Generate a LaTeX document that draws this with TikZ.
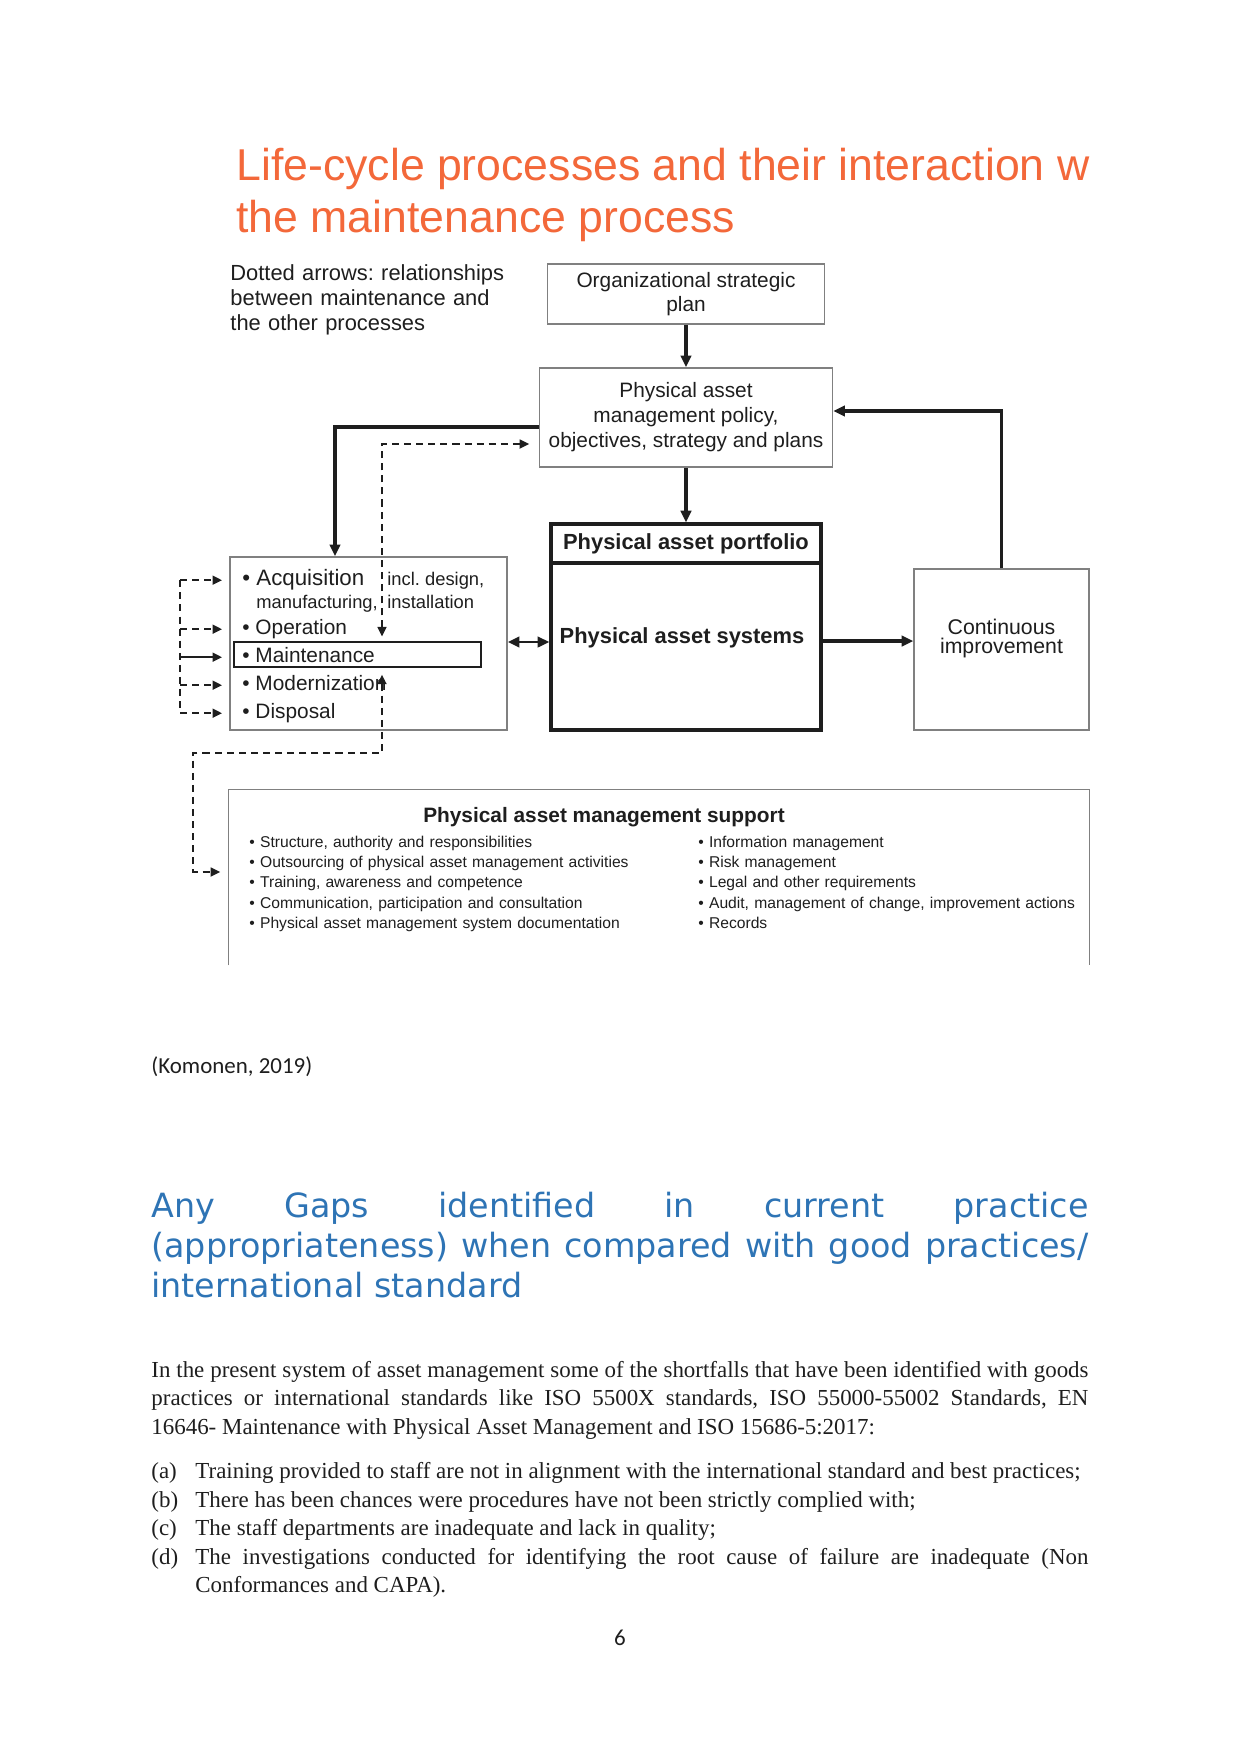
\documentclass[tikz,border=0pt]{standalone}
\usepackage{fontspec}
\usepackage{tikz}
\setmainfont{Liberation Serif}
\newfontfamily\arialfont{Liberation Sans}
\newfontfamily\gapsfont{DejaVu Sans}
\newfontfamily\calfont{Carlito}
\usetikzlibrary{arrows.meta, calc, positioning}
\frenchspacing

\definecolor{titleorange}{RGB}{243,104,58}
\definecolor{headblue}{RGB}{46,116,181}
\definecolor{framegray}{RGB}{128,128,128}
\definecolor{inkblack}{RGB}{30,30,30}

\tikzset{
  bigtip/.tip={Triangle[length=5.6pt,width=5pt]},
  smalltip/.tip={Triangle[length=4.6pt,width=4.2pt]},
  lbl/.style={inner sep=0pt, anchor=base west, text=inkblack},
  itemtxt/.style={lbl, font=\arialfont\fontsize{10}{12}\selectfont},
  smalltxt/.style={lbl, font=\arialfont\fontsize{8.8}{10.5}\selectfont},
  supporttxt/.style={lbl, text width=200pt, align=left, font=\arialfont\fontsize{7.5}{9.8}\selectfont},
  bodytxt/.style={lbl, font=\fontsize{11}{13.8}\selectfont},
  greybox/.style={draw=framegray, line width=0.7pt, inner sep=0pt, text=inkblack,
    font=\arialfont\fontsize{10}{12}\selectfont, align=center},
  heavybox/.style={draw=inkblack, line width=1.6pt, inner sep=0pt, text=inkblack,
    font=\arialfont\bfseries\fontsize{10.5}{12.6}\selectfont},
  flow/.style={draw=inkblack, line width=1.6pt, -bigtip},
  rel/.style={draw=inkblack, line width=1.1pt, dash pattern=on 3.4pt off 2.4pt, -smalltip},
}

\begin{document}
\begin{tikzpicture}[x=0.47968pt, y=-0.47968pt]
\useasboundingbox (0,0) rectangle (1241,1754);

% heading of the figure
\node[lbl, text=titleorange, font=\arialfont\fontsize{21.4}{25}\selectfont] (title1) at (236,180) {Life-cycle processes and their interaction w};
\node[lbl, text=titleorange, font=\arialfont\fontsize{21.4}{25}\selectfont] (title2) at (236,232) {the maintenance process};

\node[lbl, text width=150pt, align=left, font=\arialfont\fontsize{10.5}{12.2}\selectfont] (legend) at (230,280) {Dotted arrows: relationships\\between maintenance and\\the other processes};

% boxes
\node[greybox, minimum width=132.9pt, minimum height=28.8pt, font=\arialfont\fontsize{10}{11.5}\selectfont] (org) at (686,294) {Organizational strategic\\plan};
\node[greybox, minimum width=140.6pt, minimum height=47.5pt] (policy) at (686,417.5) {Physical asset\\management policy,\\objectives, strategy and plans};
\node[heavybox, minimum width=129.5pt, minimum height=18.7pt] (portfolio) at (686,543.5) {Physical asset portfolio};
\node[heavybox, minimum width=129.5pt, minimum height=80.1pt] (systems) at (686,646.5) {};
\node[lbl, anchor=base, font=\arialfont\bfseries\fontsize{10.5}{12.6}\selectfont] (systext) at (682,643) {Physical asset systems};
\node[greybox, minimum width=83.9pt, minimum height=77.2pt] (cont) at (1001.5,649.5) {};
\node[lbl, anchor=base, text width=80pt, align=center, font=\arialfont\fontsize{10.2}{9.3}\selectfont] (conttext) at (1001.5,634) {Continuous\\improvement};

% life-cycle processes
\node[greybox, minimum width=132.9pt, minimum height=83pt] (life) at (368.5,643.5) {};
\node[draw=inkblack, line width=1.3pt, minimum width=118.5pt, minimum height=12pt, inner sep=0pt] (maintbox) at (357.5,654.5) {};
\node[itemtxt, font=\arialfont\fontsize{10.7}{12}\selectfont] (acq) at (242,585) {\textbullet\ Acquisition};
\node[smalltxt] (incl) at (387,585) {incl. design,};
\node[smalltxt] (mfg) at (256,608) {manufacturing,};
\node[smalltxt] (inst) at (387,608) {installation};
\node[itemtxt] (oper) at (242,634) {\textbullet\ Operation};
\node[itemtxt] (maint) at (242,662) {\textbullet\ Maintenance};
\node[itemtxt] (modern) at (242,690) {\textbullet\ Modernization};
\node[itemtxt] (disp) at (242,718) {\textbullet\ Disposal};

% support box, open at the bottom
\node[minimum width=412.5pt, minimum height=83.9pt, inner sep=0pt] (support) at (659,877.5) {};
\draw[framegray, line width=0.7pt] (support.south west) |- (support.north east) -- (support.south east);
\node[lbl, anchor=base, font=\arialfont\bfseries\fontsize{10}{12}\selectfont] (suptitle) at (604,822) {Physical asset management support};
\node[supporttxt] (supleft) at (249,847) {\textbullet\ Structure, authority and responsibilities\\
  \textbullet\ Outsourcing of physical asset management activities\\
  \textbullet\ Training, awareness and competence\\
  \textbullet\ Communication, participation and consultation\\
  \textbullet\ Physical asset management system documentation};
\node[supporttxt] (supright) at (698,847) {\textbullet\ Information management\\
  \textbullet\ Risk management\\
  \textbullet\ Legal and other requirements\\
  \textbullet\ Audit, management of change, improvement actions\\
  \textbullet\ Records};

% solid connectors
\draw[flow] (org.south) -- (policy.north);
\draw[flow] (policy.south) -- (portfolio.north);
\draw[flow] ($(policy.west)+(0,9.5)$) -| ($(life.north)+(-33.5,0)$);
\draw[flow] (cont.north) |- ($(policy.east)+(0,-6.5)$);
\draw[flow] ($(systems.east)+(0,-5.5)$) coordinate (s) -- (s -| cont.west);
\draw[flow, line width=1.3pt, bigtip-bigtip] ($(life.east)+(0,-1.5)$) coordinate (l) -- (l -| systems.west);

% dotted relationships
\coordinate (dx) at (382,444);
\coordinate (lx) at (180,0);
\coordinate (bend) at (193,753);
\draw[rel, smalltip-smalltip, shorten <=2pt, shorten >=4.5pt] (maintbox.north -| dx) |- ($(policy.west)+(0,26.5)$);
\draw[rel, smalltip-smalltip, shorten <=3pt, shorten >=4pt] (maintbox.south -| dx) |- (bend) |- ($(support.west)+(0,-5.5)$);
\draw[rel, -] (lx |- acq.mid) -- (lx |- disp.mid);
\foreach \itm in {acq, oper, modern, disp}
  \draw[rel, shorten >=3.4pt] (lx |- \itm.mid) -- (life.west |- \itm.mid);
\draw[draw=inkblack, line width=1.1pt, -smalltip, shorten >=3.4pt] (lx |- maint.mid) -- (life.west |- maint.mid);

% text of the page
\node[lbl, font=\calfont\fontsize{11}{13}\selectfont] (cite) at (151,1073) {(Komonen, 2019)};
\node[lbl, text=headblue, text width=449.5pt, align=justify,
  font=\gapsfont\fontsize{16}{19.4}\selectfont] (gaps) at (151,1217)
  {Any Gaps identified in current practice\linebreak (appropriateness) when compared with good practices/ international standard};
\node[bodytxt, text width=449.5pt, align=justify] (intro) at (151,1377)
  {In the present system of asset management some of the shortfalls that have been identified with goods\linebreak practices or international standards like ISO 5500X standards, ISO 55000-55002 Standards, EN\linebreak 16646- Maintenance with Physical Asset Management and ISO 15686-5:2017:};
\foreach \lab/\yy in {a/1478, b/1507, c/1535, d/1564}
  \node[bodytxt] (lab\lab) at (151,\yy) {(\lab)};
\node[bodytxt] (ita) at (195,1478) {Training provided to staff are not in alignment with the international standard and best practices;};
\node[bodytxt] (itb) at (195,1507) {There has been chances were procedures have not been strictly complied with;};
\node[bodytxt] (itc) at (195,1535) {The staff departments are inadequate and lack in quality;};
\node[bodytxt, text width=428.4pt, align=justify] (itd) at (195,1564)
  {The investigations conducted for identifying the root cause of failure are inadequate (Non\linebreak Conformances and CAPA).};
\node[lbl, anchor=base, font=\calfont\fontsize{11}{13}\selectfont] (pageno) at (620,1645) {6};
\end{tikzpicture}
\end{document}
